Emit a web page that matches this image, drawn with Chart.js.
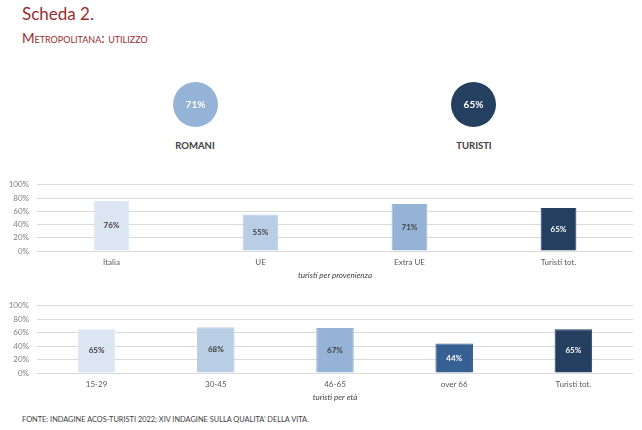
<!DOCTYPE html>
<html lang="it">
<head>
    <meta charset="UTF-8">
    <title>Scheda 2 - Metropolitana: utilizzo</title>
    <script src="https://cdn.jsdelivr.net/npm/chart.js"></script>
    <style>
        body {
            margin: 0;
            background: #ffffff;
            font-family: Lato, "Liberation Sans", sans-serif;
        }
        #page {
            position: relative;
            width: 642px;
            height: 430px;
            overflow: hidden;
        }
        .abs { position: absolute; }
        #title {
            left: 22px; top: 3px;
            font-size: 17px;
            color: #9b2d2d;
        }
        #subtitle {
            left: 22px; top: 30px;
            font-size: 13.5px;
            font-variant: small-caps;
            color: #9b2d2d;
        }
        .circleLabel {
            width: 120px;
            text-align: center;
            font-size: 9.5px;
            font-weight: bold;
            color: #404040;
        }
        #footer {
            left: 22px; top: 415px;
            font-size: 7.4px;
            color: #404040;
        }
    </style>
</head>
<body>
<div id="page">
    <div id="title" class="abs">Scheda 2.</div>
    <div id="subtitle" class="abs">Metropolitana: utilizzo</div>

    <!-- the two badge circles -->
    <canvas id="circle0" class="abs" width="47" height="47" style="left:172px; top:81px;"></canvas>
    <canvas id="circle1" class="abs" width="47" height="47" style="left:450px; top:81px;"></canvas>
    <div id="clabel0" class="abs circleLabel" style="left:135px; top:140px;"></div>
    <div id="clabel1" class="abs circleLabel" style="left:414px; top:140px;"></div>

    <canvas id="provChart" class="abs" width="642" height="114" style="left:0; top:172px;"></canvas>
    <canvas id="etaChart" class="abs" width="642" height="115" style="left:0; top:293px;"></canvas>

    <div id="footer" class="abs">FONTE: INDAGINE ACOS-TURISTI 2022; XIV INDAGINE SULLA QUALITA’ DELLA VITA.</div>
</div>

<script>
    // data
    const circleNames = ['ROMANI', 'TURISTI'];
    const circleValues = [71, 65];
    const circleColors = ['#95b3d7', '#243f60'];

    const provCategories = ['Italia', 'UE', 'Extra UE', 'Turisti tot.'];
    const provValues = [76, 55, 71, 65];
    const provColors = ['#dce6f2', '#b9cde5', '#95b3d7', '#243f60'];
    const provLabelColors = ['#404040', '#404040', '#404040', '#ffffff'];

    const etaCategories = ['15-29', '30-45', '46-65', 'over 66', 'Turisti tot.'];
    const etaValues = [65, 68, 67, 44, 65];
    const etaColors = ['#dce6f2', '#b9cde5', '#95b3d7', '#376092', '#243f60'];
    const etaLabelColors = ['#404040', '#404040', '#404040', '#ffffff', '#ffffff'];

    const yTicks = [0, 20, 40, 60, 80, 100];

    const FONT = 'Lato, "Liberation Sans", sans-serif';

    // writes the value in the middle of each bar
    const barLabels = {
        id: 'barLabels',
        afterDatasetsDraw(chart, args, opts) {
            const ctx = chart.ctx;
            const meta = chart.getDatasetMeta(0);
            const data = chart.data.datasets[0].data;
            ctx.save();
            ctx.font = 'bold 8px ' + FONT;
            ctx.textAlign = 'center';
            ctx.textBaseline = 'middle';
            meta.data.forEach((bar, i) => {
                ctx.fillStyle = opts.colors[i];
                ctx.fillText(data[i] + '%', bar.x, (bar.y + bar.base) / 2);
            });
            ctx.restore();
        }
    };

    // writes the value in the centre of the circle
    const centerLabel = {
        id: 'centerLabel',
        afterDatasetsDraw(chart) {
            const arc = chart.getDatasetMeta(0).data[0];
            const ctx = chart.ctx;
            ctx.save();
            ctx.font = 'bold 10px ' + FONT;
            ctx.fillStyle = '#ffffff';
            ctx.textAlign = 'center';
            ctx.textBaseline = 'middle';
            ctx.fillText(chart.data.datasets[0].data[0] + '%', arc.x, arc.y);
            ctx.restore();
        }
    };

    circleNames.forEach((name, i) => {
        document.getElementById('clabel' + i).textContent = name;
        new Chart(document.getElementById('circle' + i), {
            type: 'pie',
            data: {
                labels: [name],
                datasets: [{
                    data: [circleValues[i]],
                    backgroundColor: [circleColors[i]],
                    borderWidth: 0
                }]
            },
            options: {
                responsive: false,
                animation: false,
                events: [],
                layout: { padding: 1 },
                plugins: { legend: { display: false }, tooltip: { enabled: false } }
            },
            plugins: [centerLabel]
        });
    });

    function makeBarChart(id, categories, values, colors, labelColors, title, barPct) {
        return new Chart(document.getElementById(id), {
            type: 'bar',
            data: {
                labels: categories,
                datasets: [{
                    data: values,
                    backgroundColor: colors,
                    borderColor: colors,
                    borderWidth: 1,
                    categoryPercentage: 1,
                    barPercentage: barPct
                }]
            },
            options: {
                responsive: false,
                animation: false,
                events: [],
                layout: { padding: { top: 9, right: 9, left: 0, bottom: 0 } },
                plugins: {
                    legend: { display: false },
                    tooltip: { enabled: false },
                    barLabels: { colors: labelColors }
                },
                scales: {
                    x: {
                        grid: { display: false, drawTicks: false },
                        border: { display: false },
                        ticks: { color: '#595959', font: { family: FONT, size: 8 }, padding: 7 },
                        title: {
                            display: true,
                            text: title,
                            color: '#404040',
                            font: { family: FONT, size: 8, style: 'italic' },
                            padding: { top: 2, bottom: 6 }
                        },
                        afterFit(scale) { scale.height = 35; }
                    },
                    y: {
                        min: 0,
                        max: 100,
                        afterBuildTicks(scale) { scale.ticks = yTicks.map(v => ({ value: v })); },
                        grid: { color: '#d9d9d9', drawTicks: false },
                        border: { display: false },
                        ticks: {
                            color: '#7f7f7f',
                            font: { family: FONT, size: 8 },
                            padding: 8,
                            callback: v => v + '%'
                        },
                        afterFit(scale) { scale.width = 37; }
                    }
                }
            },
            plugins: [barLabels]
        });
    }

    makeBarChart('provChart', provCategories, provValues, provColors, provLabelColors, 'turisti per provenienza', 0.24);
    makeBarChart('etaChart', etaCategories, etaValues, etaColors, etaLabelColors, 'turisti per età', 0.315);
</script>
</body>
</html>
